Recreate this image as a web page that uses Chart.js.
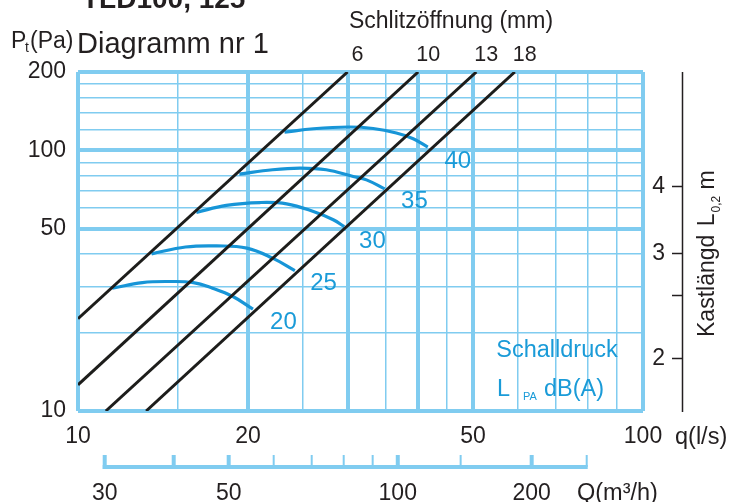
<!DOCTYPE html>
<html><head><meta charset="utf-8">
<script src="https://cdn.jsdelivr.net/npm/chart.js@4"></script>
<style>html,body{margin:0;padding:0;background:#fff}#wrap{width:729px;height:502px;position:relative}</style>
</head><body><div id="wrap"><canvas id="c" width="729" height="502"></canvas></div>
<script>
// ---- axis ticks ----
const qTicks = [10,15,20,25,30,35,40,45,50,60,70,80,90,100];
const qLabels = [10,20,50,100];
const qMajor = [10,20,30,40,50,100];
const pTicks = [10,20,30,40,50,60,70,80,90,100,120,140,160,180,200];
const pLabels = [10,50,100,200];
const pMajor = [10,50,100,200];

// ---- Schlitzöffnung lines (q l/s, p Pa) ----
const slotNames = ['6','10','13','18'];
const slot6Q = [10, 30];     const slot6P = [22.6, 200];
const slot10Q = [10, 40];    const slot10P = [12.6, 200];
const slot13Q = [11.2, 50.7]; const slot13P = [10, 200];
const slot18Q = [13.2, 59.3]; const slot18P = [10, 200];

// ---- Schalldruck curves dB(A) ----
const dbNames = ['20','25','30','35','40'];
const db20Q = [11.5, 13.0, 14.5, 16.0, 17.3, 18.8, 20.4];
const db20P = [29.6, 31.1, 31.4, 31.1, 29.6, 27.5, 24.6];
const db25Q = [13.5, 15.5, 17.6, 19.9, 22.1, 24.2];
const db25P = [40.1, 42.6, 43.0, 42.2, 38.6, 34.6];
const db30Q = [16.2, 18.3, 21.0, 23.4, 26.1, 28.3, 29.6];
const db30P = [57.8, 61.5, 63.1, 62.4, 58.3, 54.2, 51.0];
const db35Q = [19.3, 22.1, 24.7, 27.5, 30.7, 32.4, 34.9];
const db35P = [81.1, 84.3, 85.5, 84.3, 79.4, 77.1, 71.2];
const db40Q = [23.2, 26.1, 30.1, 33.3, 36.6, 39.2, 41.6];
const db40P = [117.5, 121.1, 123.0, 121.4, 116.6, 110.9, 103.0];
const dbLabelQ = [23.1, 27.2, 33.2, 39.4, 47.0];
const dbLabelP = [21.9, 30.8, 44.8, 63.5, 90.5];

// ---- Kastlängd axis (m) at pressure positions ----
const kastTicks = ['2','','3','4'];
const kastAtPa = [16.0, 27.9, 40.3, 73.2];

// ---- Q (m3/h) axis at flow positions (l/s) ----
const qm3hTicks = [30,40,50,60,70,80,90,100,150,200,250];
const qm3hAtLs = [11.15,14.77,18.48,22.2,25.92,29.53,33.23,36.81,47.56,63.53,79.5];
const qm3hLabels = [30,50,100,200];
const qm3hMajor = [30,40,50,100,200];

const F = '"Liberation Sans", Arial, Helvetica, sans-serif';
const TXT = '#231f20', BLUE = '#1795d7', BLUETXT = '#1a9bd8', GRID = '#80ccf0', BLACK = '#1d1d1b';

const zip = (a, b) => a.map((v, i) => ({x: v, y: b[i]}));
const slots = [[slot6Q, slot6P],[slot10Q, slot10P],[slot13Q, slot13P],[slot18Q, slot18P]];
const curves = [[db20Q, db20P],[db25Q, db25P],[db30Q, db30P],[db35Q, db35P],[db40Q, db40P]];

const datasets = [];
slots.forEach(([q, p], i) => datasets.push({label: slotNames[i] + ' mm', data: zip(q, p), borderColor: BLACK, borderWidth: 3, pointRadius: 0, showLine: true, tension: 0}));
curves.forEach(([q, p], i) => datasets.push({label: dbNames[i] + ' dB', data: zip(q, p), borderColor: BLUE, borderWidth: 3.2, pointRadius: 0, showLine: true, tension: 0.4}));

function txt(ctx, s, x, y, size, opt = {}) {
  ctx.save();
  ctx.font = (opt.bold ? 'bold ' : '') + size + 'px ' + F;
  ctx.fillStyle = opt.color || TXT;
  ctx.textAlign = opt.align || 'left';
  ctx.textBaseline = opt.baseline || 'alphabetic';
  ctx.fillText(s, x, y);
  ctx.restore();
}

const extras = {
  id: 'extras',
  afterDraw(chart) {
    const ctx = chart.ctx, x = chart.scales.x, y = chart.scales.y;
    // headings
    txt(ctx, 'TLD100, 125', 82, 8, 28, {bold: true});
    txt(ctx, 'P', 11, 48, 23); txt(ctx, 't', 25, 52, 14); txt(ctx, '(Pa)', 30, 48, 23);
    txt(ctx, 'Diagramm nr 1', 77, 53, 29);
    txt(ctx, 'Schlitzöffnung (mm)', 451, 28, 23, {align: 'center'});
    slots.forEach(([q], i) => txt(ctx, slotNames[i], x.getPixelForValue(q[q.length - 1]) + 10, 61, 21.5, {align: 'center'}));
    // dB labels
    dbNames.forEach((n, i) => txt(ctx, n, x.getPixelForValue(dbLabelQ[i]), y.getPixelForValue(dbLabelP[i]), 24, {align: 'center', baseline: 'middle', color: BLUETXT}));
    txt(ctx, 'Schalldruck', 557, 357, 23.5, {align: 'center', color: BLUETXT});
    txt(ctx, 'L', 497, 396, 23.5, {color: BLUETXT});
    txt(ctx, 'PA', 523, 400, 11, {color: BLUETXT});
    txt(ctx, 'dB(A)', 544, 396, 23.5, {color: BLUETXT});
    // q unit
    txt(ctx, 'q(l/s)', 675, 444, 23.5);
    // Q axis
    const yQ = 467;
    ctx.save();
    ctx.strokeStyle = GRID; ctx.lineCap = 'butt';
    ctx.lineWidth = 4;
    const x0 = x.getPixelForValue(qm3hAtLs[0]), x1 = x.getPixelForValue(qm3hAtLs[qm3hAtLs.length - 1]);
    ctx.beginPath(); ctx.moveTo(x0 - 2, yQ); ctx.lineTo(x1 + 1, yQ); ctx.stroke();
    qm3hTicks.forEach((v, i) => {
      const px = x.getPixelForValue(qm3hAtLs[i]);
      ctx.lineWidth = qm3hMajor.includes(v) ? 4 : 2;
      ctx.beginPath(); ctx.moveTo(px, yQ + (i === 0 ? 2 : 0)); ctx.lineTo(px, 455); ctx.stroke();
      if (qm3hLabels.includes(v)) txt(ctx, String(v), px, 500, 23, {align: 'center'});
    });
    ctx.restore();
    txt(ctx, 'Q(m³/h)', 577, 500, 23.5);
    // Kastlängd axis
    ctx.save();
    ctx.strokeStyle = TXT; ctx.lineWidth = 1.5;
    ctx.beginPath(); ctx.moveTo(682.5, y.top); ctx.lineTo(682.5, y.bottom + 1); ctx.stroke();
    kastTicks.forEach((t, i) => {
      const py = Math.round(y.getPixelForValue(kastAtPa[i])) + 0.5;
      ctx.beginPath(); ctx.moveTo(672, py); ctx.lineTo(682.5, py); ctx.stroke();
      if (t) txt(ctx, t, 665, py, 23, {align: 'right', baseline: 'middle'});
    });
    ctx.restore();
    ctx.save();
    ctx.translate(714, 337);
    ctx.rotate(-Math.PI / 2);
    ctx.fillStyle = TXT;
    ctx.font = '23px ' + F;
    let cx = 0;
    ctx.fillText('Kastlängd', cx, 0); cx += ctx.measureText('Kastlängd ').width + 2;
    ctx.fillText('L', cx, 0); cx += ctx.measureText('L').width + 1;
    ctx.font = '12px ' + F;
    ctx.fillText('0,2', cx, 6); cx += ctx.measureText('0,2').width;
    ctx.font = '23px ' + F;
    ctx.fillText(' m', cx, 0);
    ctx.restore();
  }
};

new Chart(document.getElementById('c'), {
  type: 'scatter',
  data: {datasets},
  options: {
    responsive: false, animation: false, devicePixelRatio: 1,
    layout: {padding: {top: 72, right: 86, bottom: 0, left: 0}},
    plugins: {legend: {display: false}, tooltip: {enabled: false}},
    scales: {
      x: {
        type: 'logarithmic', min: 10, max: 100,
        afterBuildTicks: s => { s.ticks = qTicks.map(v => ({value: v})); },
        afterFit: s => { s.height = 91; },
        border: {display: false},
        grid: {color: GRID, drawTicks: false, lineWidth: c => qMajor.includes(c.tick && c.tick.value) ? 4 : 1.5},
        ticks: {autoSkip: false, maxRotation: 0, padding: 12, color: TXT, font: {size: 23, family: F},
          callback: v => qLabels.includes(v) ? String(v) : ''}
      },
      y: {
        type: 'logarithmic', min: 10, max: 200,
        afterBuildTicks: s => { s.ticks = pTicks.map(v => ({value: v})); },
        afterFit: s => { s.width = 78; },
        border: {display: false},
        grid: {color: GRID, drawTicks: false, lineWidth: c => pMajor.includes(c.tick && c.tick.value) ? 4 : 1.5},
        ticks: {autoSkip: false, padding: 12, color: TXT, font: {size: 23, family: F},
          callback: v => pLabels.includes(v) ? String(v) : ''}
      }
    }
  },
  plugins: [extras]
});
</script></body></html>
